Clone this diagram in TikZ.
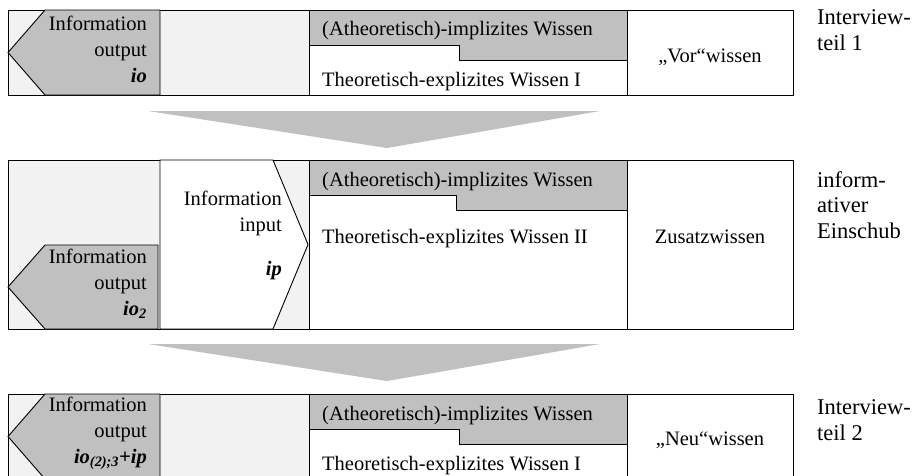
\documentclass[tikz,border=0pt]{standalone}
\usepackage{fontspec}
\setmainfont{Liberation Serif}
\begin{document}
\begin{tikzpicture}[x=1pt,y=-1pt,
  frame/.style={draw=black,line width=0.9pt,line join=miter},
  darkfill/.style={fill=gray75},
  lightfill/.style={fill=gray95},
  flowarrow/.style={fill=gray75,draw=none},
  boxtext/.style={inner sep=0pt,font=\fontsize{20.5}{26}\selectfont},
  sidetext/.style={inner sep=0pt,align=left,anchor=base west,font=\fontsize{22.5}{25.5}\selectfont}]
\definecolor{gray75}{RGB}{192,192,192}
\definecolor{gray95}{RGB}{242,242,242}
\useasboundingbox (0,0) rectangle (917,475);
\begin{scope}
\clip (0,0) rectangle (917,475);

% ---------- phase 1 ----------
\draw[frame,lightfill] (8,10) rectangle (309,95);
\draw[frame,darkfill] (45,10) -- (160,10) -- (160,95) -- (45,95) -- (8,52.5) -- cycle;
\draw[frame,fill=white] (309,10) rectangle (627,95);
\draw[frame,darkfill] (309,10) -- (627,10) -- (627,60) -- (459,60) -- (459,45) -- (309,45) -- cycle;
\draw[frame,fill=white] (627,10) rectangle (793,95);
\node[boxtext,align=right,anchor=base east] (io1) at (147,82) {Information\\output\\\textbf{\textit{io}}};
\node[boxtext,anchor=base west] (imp1) at (322,35) {(Atheoretisch)-implizites Wissen};
\node[boxtext,anchor=base west] (exp1) at (322,86) {Theoretisch-explizites Wissen I};
\node[boxtext,anchor=base] (vor) at (710,62) {„Vor“wissen};
\node[sidetext] (lab1) at (817,50) {Interview-\\teil 1};

% ---------- transition arrows ----------
\path[flowarrow] (148,111) -- (600,111) -- (387,148) -- cycle;
\path[flowarrow] (148,344) -- (600,344) -- (387,381) -- cycle;

% ---------- phase 2 ----------
\draw[frame,lightfill] (8,160) rectangle (309,329);
\draw[frame,fill=white] (160,160) -- (273,160) -- (308,244.5) -- (273,329) -- (160,329) -- cycle;
\draw[frame,darkfill] (45,245) -- (158,245) -- (158,329) -- (45,329) -- (8,287) -- cycle;
\draw[frame,fill=white] (309,160) rectangle (627,329);
\draw[frame,darkfill] (309,160) -- (627,160) -- (627,210) -- (456,210) -- (456,195) -- (309,195) -- cycle;
\draw[frame,fill=white] (627,160) rectangle (793,329);
\node[boxtext,align=right,anchor=base east] (ip) at (282,275) {Information\\input\\[18pt]\textbf{\textit{ip}}};
\node[boxtext,align=right,anchor=base east] (io2) at (147,315) {Information\\output\\\textbf{\textit{io\textsubscript{2}}}};
\node[boxtext,anchor=base west] (imp2) at (322,186) {(Atheoretisch)-implizites Wissen};
\node[boxtext,anchor=base west] (exp2) at (322,243) {Theoretisch-explizites Wissen II};
\node[boxtext,anchor=base] (zus) at (710,243) {Zusatzwissen};
\node[sidetext] (lab2) at (817,238) {inform-\\ativer\\Einschub};

% ---------- phase 3 ----------
\draw[frame,lightfill] (8,394) rectangle (309,479);
\draw[frame,darkfill] (45,394) -- (160,394) -- (160,479) -- (45,479) -- (8,436.5) -- cycle;
\draw[frame,fill=white] (309,394) rectangle (627,479);
\draw[frame,darkfill] (309,394) -- (627,394) -- (627,444) -- (459,444) -- (459,429) -- (309,429) -- cycle;
\draw[frame,fill=white] (627,394) rectangle (793,479);
\node[boxtext,align=right,anchor=base east] (io3) at (147,463) {Information\\output\\\textbf{\textit{io\textsubscript{(2);3}+ip}}};
\node[boxtext,anchor=base west] (imp3) at (322,420) {(Atheoretisch)-implizites Wissen};
\node[boxtext,anchor=base west] (exp3) at (322,470) {Theoretisch-explizites Wissen I};
\node[boxtext,anchor=base] (neu) at (710,445) {„Neu“wissen};
\node[sidetext] (lab3) at (817,440) {Interview-\\teil 2};
\end{scope}
\end{tikzpicture}
\end{document}
